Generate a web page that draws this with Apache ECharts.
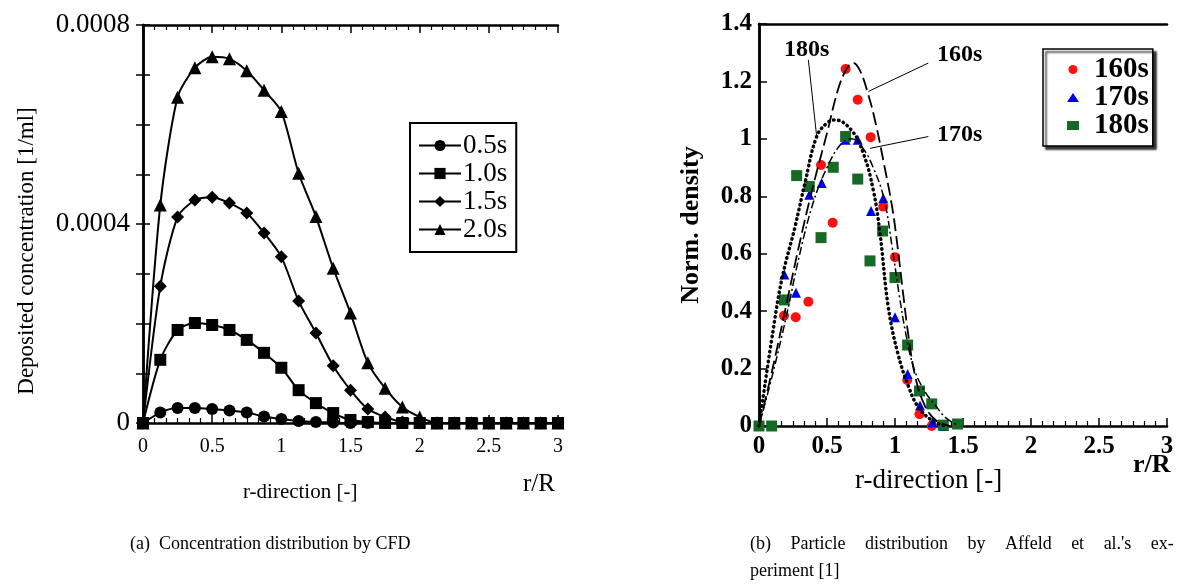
<!DOCTYPE html>
<html><head><meta charset="utf-8">
<script src="https://cdn.jsdelivr.net/npm/echarts@6/dist/echarts.min.js"></script>
<style>html,body{margin:0;padding:0;background:#fff}#c{width:1192px;height:584px}</style>
</head><body><div id="c"></div>
<script>
// ---- Chart (a): CFD concentration ----
const rCfd = [0,0.125,0.25,0.375,0.5,0.625,0.75,0.875,1,1.125,1.25,1.375,1.5,1.625,1.75,1.875,2,2.125,2.25,2.375,2.5,2.625,2.75,2.875,3];
const c05 = [0,0.000021,0.000030,0.000030,0.000028,0.000025,0.000021,0.000013,0.000008,0.000004,0.000002,0.000001,0,0,0,0,0,0,0,0,0,0,0,0,0];
const c10 = [0,0.000127,0.000187,0.000201,0.000197,0.000187,0.000167,0.000141,0.000111,0.000066,0.000040,0.000020,0.000006,0.000002,0,0,0,0,0,0,0,0,0,0,0];
const c15 = [0,0.000275,0.000414,0.000448,0.000454,0.000442,0.000422,0.000382,0.000334,0.000245,0.000181,0.000115,0.000066,0.000028,0.000012,0.000002,0,0,0,0,0,0,0,0,0];
const c20 = [0,0.000438,0.000655,0.000714,0.000736,0.000732,0.000708,0.000669,0.000626,0.000502,0.000415,0.000311,0.000221,0.000121,0.000070,0.000032,0.000012,0,0,0,0,0,0,0,0];
const cfdNames = ['0.5s','1.0s','1.5s','2.0s'];
const yTicksA = [0, 0.0004, 0.0008];

// ---- Chart (b): experiment ----
const p160 = [[0,0],[0.184,0.384],[0.27,0.379],[0.363,0.433],[0.456,0.909],[0.542,0.708],[0.637,1.243],[0.726,1.136],[0.821,1.006],[0.914,0.764],[1.0,0.588],[1.09,0.16],[1.18,0.041],[1.27,0]];
const p170 = [[0,0],[0.186,0.528],[0.272,0.464],[0.37,0.805],[0.461,0.846],[0.637,0.997],[0.726,0.997],[0.824,0.749],[0.914,0.793],[1.0,0.379],[1.093,0.181],[1.184,0.071],[1.277,0.013],[1.36,0]];
const p180 = [[0,0],[0.093,0],[0.186,0.439],[0.277,0.872],[0.37,0.834],[0.456,0.656],[0.546,0.901],[0.637,1.008],[0.726,0.86],[0.816,0.575],[0.909,0.679],[1.0,0.517],[1.093,0.282],[1.18,0.122],[1.27,0.077],[1.355,0.003],[1.46,0.007]];
const f160 = [[0,0],[0.1,0.2],[0.2,0.42],[0.3,0.64],[0.4,0.84],[0.5,1.02],[0.58,1.17],[0.64,1.24],[0.69,1.265],[0.74,1.24],[0.8,1.16],[0.86,1.05],[0.92,0.91],[0.98,0.76],[1.02,0.62],[1.06,0.46],[1.1,0.31],[1.15,0.17],[1.22,0.07],[1.3,0.02],[1.4,0]];
const f170 = [[0,0],[0.1,0.18],[0.2,0.38],[0.3,0.6],[0.4,0.78],[0.5,0.9],[0.6,0.98],[0.68,1.0],[0.76,0.97],[0.84,0.9],[0.92,0.79],[0.98,0.62],[1.03,0.46],[1.08,0.32],[1.14,0.2],[1.22,0.12],[1.3,0.07],[1.37,0.03],[1.45,0.005]];
const f180 = [[0,0],[0.03,0.1],[0.093,0.3],[0.167,0.509],[0.265,0.694],[0.338,0.846],[0.424,1.008],[0.5,1.055],[0.56,1.066],[0.68,1.03],[0.767,0.95],[0.84,0.822],[0.89,0.671],[0.95,0.416],[1.02,0.254],[1.1,0.137],[1.17,0.067],[1.27,0.02],[1.37,0]];
const expNames = ['160s','170s','180s'];
const lead180 = [[0.363,1.275],[0.424,1.008]];
const lead160 = [[1.245,1.264],[0.804,1.165]];
const lead170 = [[1.245,1.008],[0.816,0.967]];

const SERIF = '"Liberation Serif","Times New Roman",serif';
const chart = echarts.init(document.getElementById('c'), null, {renderer:'canvas'});
const zip = (xs, ys) => xs.map((x,i)=>[x, ys[i]]);
const blk = {color:'#000', width:2.5};
const GAP = '\u2003\u200A';

function xAx(grid, pos, labels, bold) {
  return {type:'value', gridIndex:grid, position:pos, min:0, max:3, interval:0.5,
    axisLine:{show:true, onZero:false, lineStyle:blk},
    axisTick:{show:labels!==null, inside:true, length:8, lineStyle:{color:'#000', width:1.5}},
    minorTick:{show:labels!==null, splitNumber:6, length:5, lineStyle:{color:'#000', width:1.2}},
    splitLine:{show:false},
    axisLabel:{show:!!labels, color:'#000', fontFamily:SERIF, fontSize:bold?25:20, fontWeight:bold?'bold':'normal', margin:bold?8:14}};
}
function txt(t, l, tp, size, bold) {
  return {text:t, left:l, top:tp, padding:0, textStyle:{fontFamily:SERIF, fontSize:size, fontWeight:bold?'bold':'normal', color:'#000'}};
}

const lineCommon = {type:'line', xAxisIndex:0, yAxisIndex:0, smooth:0.25, symbolSize:12,
  lineStyle:{color:'#000', width:2}, itemStyle:{color:'#000'}};

chart.setOption({
  animation:false,
  title:[
    txt('r-direction [-]', 243, 482, 21, false),
    txt('r/R', 523, 472, 25, false),
    txt('(a)  Concentration distribution by CFD', 130, 535, 18, false),
    txt('r-direction [-]', 855, 467, 27, false),
    txt('r/R', 1133, 452, 26, true),
    txt(['(b)', 'Particle', 'distribution', 'by', 'Affeld', 'et', "al.'s", 'ex-'].join(GAP), 750, 535, 18, false),
    txt('periment [1]', 750, 562, 18, false),
    txt('180s', 784, 38, 24, true),
    txt('160s', 937, 43, 24, true),
    txt('170s', 937, 123, 24, true)
  ],
  graphic:[
    {type:'text', x:27, y:251, rotation:Math.PI/2, silent:true,
     style:{text:'Deposited concentration [1/ml]', fontFamily:SERIF, fontSize:23, fill:'#000', textAlign:'center', textVerticalAlign:'middle'}}
  ],
  grid:[
    {left:143, right:634, top:25, bottom:161},
    {left:759, right:25, top:24, bottom:158}
  ],
  legend:[
    {data:cfdNames, orient:'vertical', left:410, top:123, padding:[9,9,9,8], itemGap:1, itemWidth:42, itemHeight:14,
     borderColor:'#000', borderWidth:2, backgroundColor:'#fff',
     textStyle:{fontFamily:SERIF, fontSize:27, color:'#000', padding:[0,0,0,-3]}},
    {data:expNames, orient:'vertical', left:1043, top:49, padding:[6,4,6,24], itemGap:-1, itemWidth:12, itemHeight:9,
     borderColor:'#000', borderWidth:1.5, backgroundColor:'#fff',
     shadowColor:'rgba(0,0,0,0.8)', shadowOffsetX:3, shadowOffsetY:3, shadowBlur:2,
     textStyle:{fontFamily:SERIF, fontSize:29, fontWeight:'bold', color:'#000', padding:[0,0,0,10]}}
  ],
  xAxis:[
    xAx(0,'bottom',true,false),
    xAx(0,'top',false,false),
    xAx(1,'bottom',true,true),
    xAx(1,'top',null,true)
  ],
  yAxis:[
    {type:'value', gridIndex:0, position:'left', min:0, max:0.0008, interval:0.0004,
     axisLine:{show:true, lineStyle:blk},
     axisTick:{show:true, inside:true, length:7, lineStyle:{color:'#000', width:1.5}},
     minorTick:{show:true, splitNumber:4, length:7, lineStyle:{color:'#000', width:1.5}},
     splitLine:{show:false},
     axisLabel:{color:'#000', fontFamily:SERIF, fontSize:27, margin:13,
       formatter:v=>{const t=yTicksA.find(k=>Math.abs(k-v)<1e-9); return t===undefined?'':String(t);}}},
    {type:'value', gridIndex:0, position:'right', min:0, max:0.0008, interval:0.0004,
     axisLine:{show:true, lineStyle:blk},
     axisTick:{show:true, inside:true, length:7, lineStyle:{color:'#000', width:1.5}},
     minorTick:{show:true, splitNumber:4, length:7, lineStyle:{color:'#000', width:1.5}},
     splitLine:{show:false}, axisLabel:{show:false}},
    {type:'value', gridIndex:1, position:'left', min:0, max:1.4, interval:0.2,
     axisLine:{show:true, lineStyle:blk},
     axisTick:{show:true, inside:true, length:8, lineStyle:{color:'#000', width:1.5}},
     splitLine:{show:false},
     axisLabel:{color:'#000', fontFamily:SERIF, fontSize:25, fontWeight:'bold', margin:7},
     name:'Norm. density', nameLocation:'middle', nameGap:55,
     nameTextStyle:{fontFamily:SERIF, fontSize:26, fontWeight:'bold', color:'#000'}},
    {type:'value', gridIndex:1, position:'right', min:0, max:1.4, interval:0.2,
     axisLine:{show:true, lineStyle:blk}, axisTick:{show:false}, splitLine:{show:false}, axisLabel:{show:false}}
  ],
  series:[
    Object.assign({}, lineCommon, {name:'0.5s', data:zip(rCfd,c05), symbol:'circle', symbolSize:12}),
    Object.assign({}, lineCommon, {name:'1.5s', data:zip(rCfd,c15), symbol:'diamond', symbolSize:13}),
    Object.assign({}, lineCommon, {name:'2.0s', data:zip(rCfd,c20), symbol:'triangle', symbolSize:13}),
    Object.assign({}, lineCommon, {name:'1.0s', data:zip(rCfd,c10), symbol:'rect', symbolSize:12}),

    {type:'line', name:'160s fit', xAxisIndex:2, yAxisIndex:2, data:f160, smooth:0.4, symbol:'none', silent:true,
     lineStyle:{color:'#000', width:1.8, type:[13,5]}},
    {type:'line', name:'170s fit', xAxisIndex:2, yAxisIndex:2, data:f170, smooth:0.4, symbol:'none', silent:true,
     lineStyle:{color:'#000', width:1.5, type:[8,3,2,3]}},
    {type:'line', name:'180s fit', xAxisIndex:2, yAxisIndex:2, data:f180, smooth:0.4, symbol:'none', silent:true,
     lineStyle:{color:'#000', width:3.5, type:[0.5,4.5], cap:'round'}},
    {type:'line', name:'lead180', xAxisIndex:2, yAxisIndex:2, data:lead180, symbol:'none', silent:true, lineStyle:{color:'#000', width:1}},
    {type:'line', name:'lead160', xAxisIndex:2, yAxisIndex:2, data:lead160, symbol:'none', silent:true, lineStyle:{color:'#000', width:1}},
    {type:'line', name:'lead170', xAxisIndex:2, yAxisIndex:2, data:lead170, symbol:'none', silent:true, lineStyle:{color:'#000', width:1}},

    {type:'scatter', name:'160s', xAxisIndex:2, yAxisIndex:2, data:p160, symbol:'circle', symbolSize:10, itemStyle:{color:'#ff0f0f', opacity:1}},
    {type:'scatter', name:'170s', xAxisIndex:2, yAxisIndex:2, data:p170, symbol:'triangle', symbolSize:10, itemStyle:{color:'#0000f0', opacity:1}},
    {type:'scatter', name:'180s', xAxisIndex:2, yAxisIndex:2, data:p180, symbol:'rect', symbolSize:11, itemStyle:{color:'#156a25', opacity:1}}
  ]
});
</script></body></html>
